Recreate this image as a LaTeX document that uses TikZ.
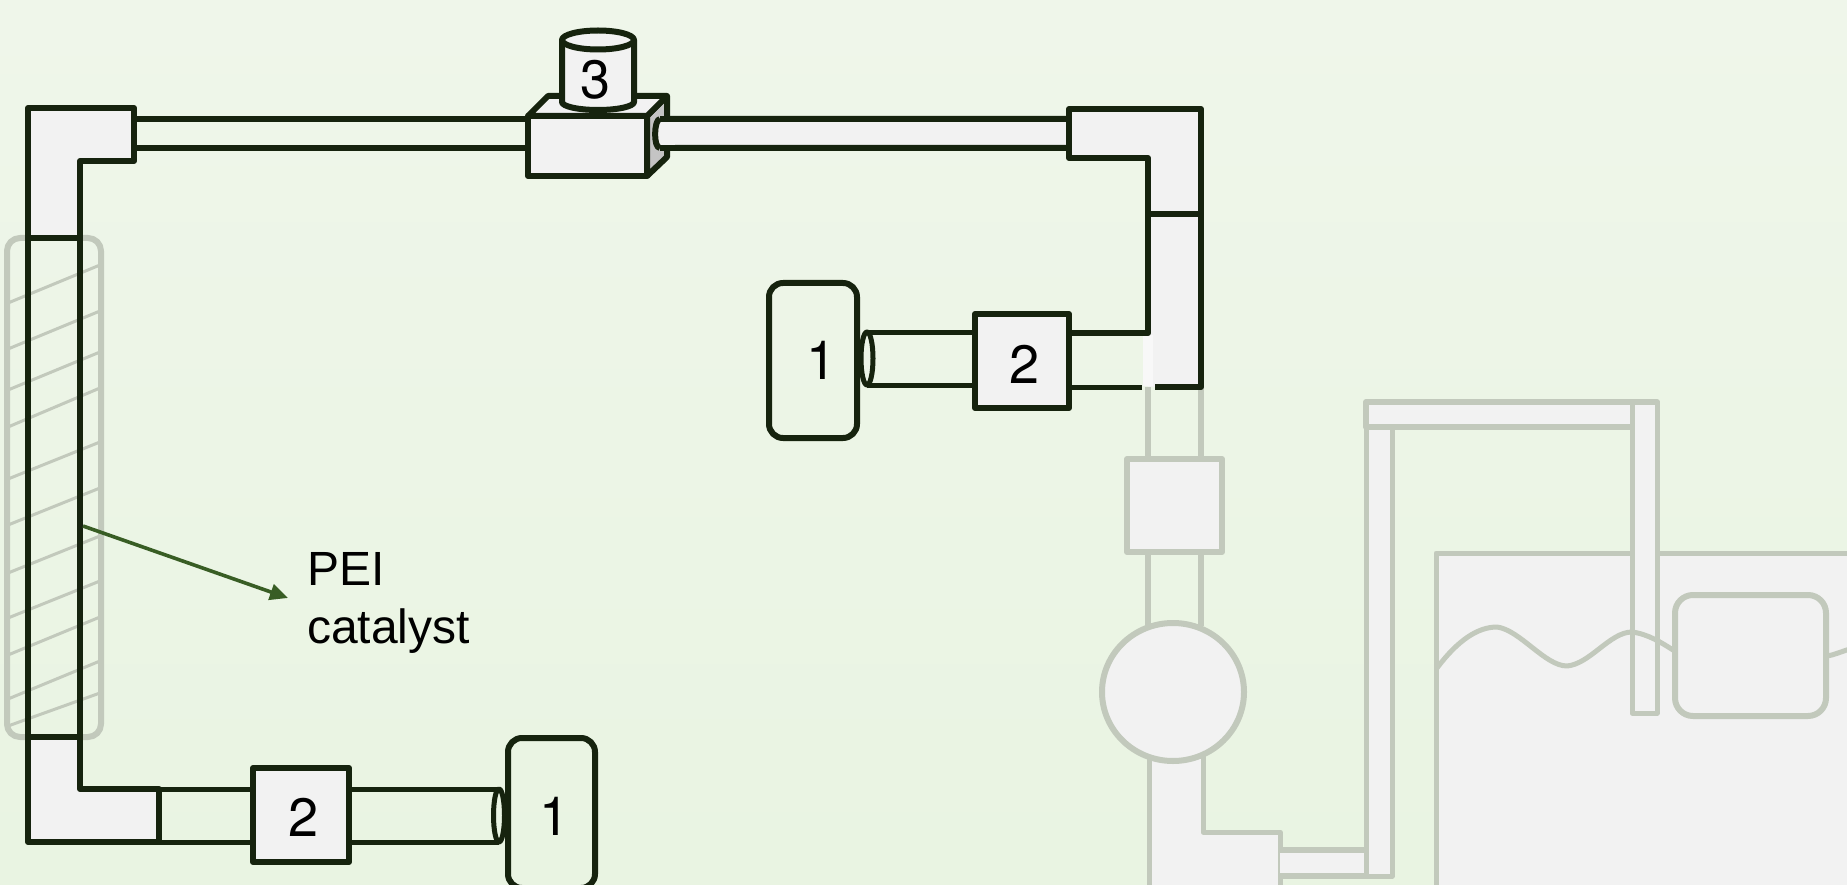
\documentclass[tikz,border=0pt]{standalone}
\usepackage{fontspec}
\setmainfont{Liberation Sans}
\newfontfamily\digitfont{TeX Gyre Heros}
\definecolor{bgtop}{HTML}{EFF6EA}
\definecolor{bgbot}{HTML}{E9F4E2}
\definecolor{ink}{HTML}{16230E}
\definecolor{fade}{HTML}{C2C9BC}
\definecolor{part}{HTML}{F2F2F2}
\definecolor{side}{HTML}{C4C4C4}
\definecolor{patch}{HTML}{F8F8F8}
\definecolor{pointer}{HTML}{385D24}
\usetikzlibrary{arrows.meta}
\tikzset{
  dk/.style={draw=ink,line width=6pt,line join=round},
  dkthin/.style={draw=ink,line width=5pt,line join=round},
  fd/.style={draw=fade,line width=6pt,line join=round},
  fdthin/.style={draw=fade,line width=5pt,line join=round},
  hatchline/.style={draw=fade,line width=3pt},
  partfill/.style={fill=part},
  digit/.style={font=\digitfont\fontsize{54}{58}\selectfont,text=black,inner sep=0pt},
  caption/.style={font=\fontsize{48}{58}\selectfont,text=black,inner sep=0pt,align=left},
}
\begin{document}
\begin{tikzpicture}[x=1pt,y=-1pt]
\useasboundingbox (0,0) rectangle (1847,885);
\shade[top color=bgtop,bottom color=bgbot] (0,0) rectangle (1847,885);
\clip (0,0) rectangle (1847,885);

% faded part of the apparatus
\draw[fd] (1148,387) -- (1148,459) (1201,387) -- (1201,459);
\draw[fd] (1148,552) -- (1148,626) (1201,552) -- (1201,626);
\draw[fd,partfill] (1127,459) rectangle (1222,552);
\fill[part] (1149,740) -- (1203,740) -- (1203,832) -- (1280,832) -- (1280,890) -- (1149,890) -- cycle;
\draw[fdthin] (1149,756) -- (1149,890);
\draw[fdthin] (1203,756) -- (1203,832) -- (1280,832) -- (1280,890);
\draw[fd,partfill] (1173,692) ellipse [x radius=71,y radius=69];
\fill[part] (1280,850) rectangle (1366,876);
\draw[fd] (1280,850) -- (1366,850) (1280,876) -- (1366,876);
\fill[part] (1436,553) rectangle (1850,890);
\draw[fdthin] (1436,890) -- (1436,553) -- (1850,553);
\draw[fdthin,partfill] (1366,876) -- (1366,402) -- (1392,402) -- (1392,876) -- cycle;
\draw[fd,partfill] (1366,402) rectangle (1657,427);
\draw[fdthin,partfill] (1632,402) rectangle (1657,713);
\draw[fd,rounded corners=18pt,partfill] (1675,595) rectangle (1826,716);
\draw[fdthin,line cap=round] (1437,668) .. controls (1458,640) and (1478,627) .. (1497,627)
  .. controls (1520,630) and (1545,666) .. (1567,666)
  .. controls (1590,664) and (1610,632) .. (1632,632)
  .. controls (1648,634) and (1662,643) .. (1673,650);
\draw[fdthin] (1827,656) .. controls (1834,655) and (1840,652) .. (1850,649);

% catalyst coating
\draw[fd,rounded corners=13pt] (7,238) rectangle (101,737);
\foreach \ya/\yb in {303/265,349/311,390/352,427/388,479/442,525/488,573/536,618/581,655/617,699/661,726/693}
  \draw[hatchline] (8,\ya) -- (100,\yb);

% left column and top-left elbow
\draw[dk] (28,238) -- (28,737) (80,238) -- (80,737);
\draw[dk,partfill] (28,238) -- (28,108) -- (134,108) -- (134,161) -- (80,161) -- (80,238) -- cycle;
\draw[dk] (134,119) -- (528,119) (134,148) -- (528,148);

% bottom-left elbow
\draw[dk,partfill] (28,737) -- (80,737) -- (80,789) -- (159,789) -- (159,842) -- (28,842) -- cycle;
\draw[dkthin] (159,789) -- (253,789) (159,842) -- (253,842);
\draw[dkthin] (349,789) -- (499,789) (349,842) -- (499,842);
\draw[dk,partfill] (253,768) rectangle (349,862);
\node[digit] (twoA) at (304,817) {2};
\draw[dkthin] (499,815.5) ellipse [x radius=5.5,y radius=26.5];
\draw[dk,rounded corners=14pt] (508,738) rectangle (595,888);
\node[digit] (oneA) at (555,816) {1};

% pipe to the valve block
\fill[part] (660,119) .. controls (654,119) and (653,148) .. (660,148) -- (1069,148) -- (1069,119) -- cycle;
\draw[dk] (1069,119) -- (660,119) .. controls (654,119) and (653,148) .. (660,148) -- (1069,148);

% valve block
\draw[dk,fill=side] (647,116) -- (667,96) -- (667,157) -- (647,176) -- cycle;
\draw[dk,partfill] (528,116) -- (548,96) -- (667,96) -- (647,116) -- cycle;
\draw[dk,partfill] (528,116) rectangle (647,176);
\fill[part] (656,122) rectangle (675,145);
\draw[dk] (660,119) .. controls (654,119) and (653,148) .. (660,148);
\draw[dk] (660,119) -- (680,119) (660,148) -- (680,148);

% reservoir 3
\draw[dk,partfill] (562,40) -- (562,102) arc [start angle=180,end angle=0,x radius=36,y radius=8] -- (634,40);
\draw[dk,partfill] (598,40) ellipse [x radius=36,y radius=9.5];
\node[digit] (three) at (596,80) {3};

% right elbow and riser
\draw[dk,partfill] (1069,109) -- (1201,109) -- (1201,214) -- (1148,214) -- (1148,158) -- (1069,158) -- cycle;
\fill[part] (1148,214) rectangle (1201,387);
\fill[patch] (1143,335) rectangle (1153,386);
\draw[dk] (1148,214) -- (1148,333) -- (1070,333);
\draw[dk] (1148,214) -- (1201,214) -- (1201,387) -- (1155,387);
\draw[dkthin] (1142,387) -- (1069,387);
\draw[dkthin] (867,332) -- (975,332) (867,385) -- (975,385);
\draw[dk,partfill] (975,314) rectangle (1069,408);
\node[digit] (twoB) at (1024,364) {2};
\draw[dkthin] (867,358.5) ellipse [x radius=6,y radius=26.5];
\draw[dk,rounded corners=14pt] (769,283) rectangle (857,438);
\node[digit] (oneB) at (822,360) {1};

% label and pointer
\node[caption,anchor=base west] (pei) at (307,643) {PEI\\catalyst};
\coordinate (ptrstart) at (83,526);
\coordinate (ptrend) at (288,598);
\draw[pointer,line width=3.6pt,-{Triangle[length=18pt,width=16pt]}] (ptrstart) -- (ptrend);
\end{tikzpicture}
\end{document}
